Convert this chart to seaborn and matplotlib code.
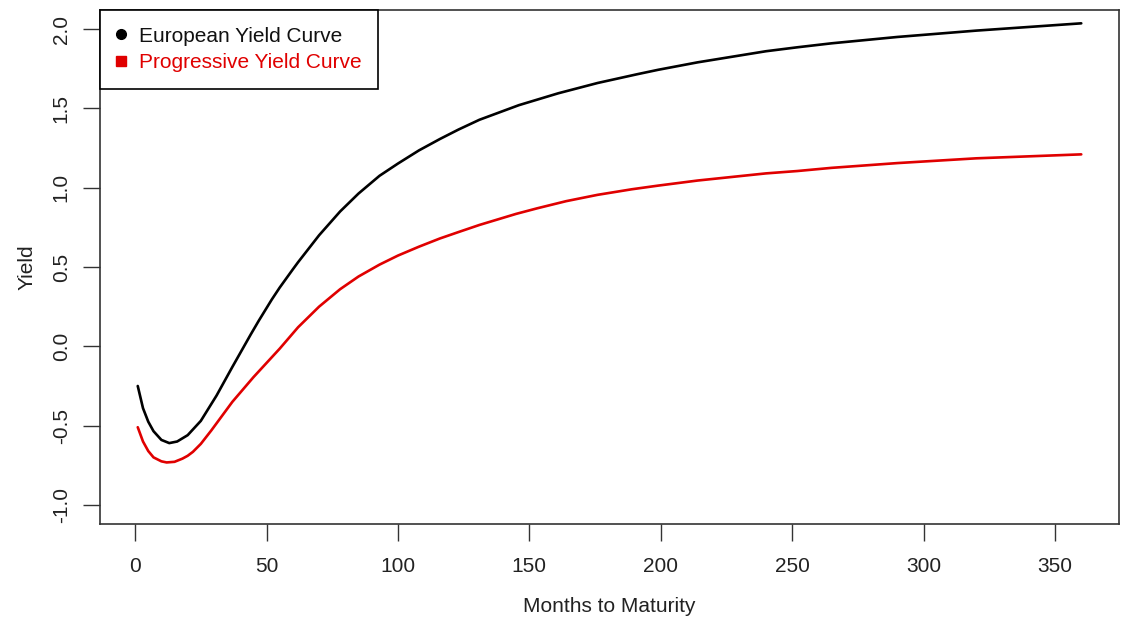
import numpy as np
import pandas as pd
import matplotlib
matplotlib.use("Agg")
import matplotlib.pyplot as plt
from matplotlib.lines import Line2D
import seaborn as sns

# ---- data ----
months_eu = [1, 3, 5, 7, 10, 13, 16, 20, 25, 31, 37, 44, 47, 52, 55, 60, 62, 70, 78, 85,
             93, 100, 108, 116, 123, 131, 146, 161, 176, 191, 199, 214, 240, 252, 265,
             290, 320, 360]
yield_eu = [-0.25, -0.39, -0.475, -0.535, -0.59, -0.61, -0.60, -0.56, -0.47, -0.31, -0.13,
            0.075, 0.16, 0.295, 0.37, 0.485, 0.53, 0.70, 0.85, 0.963, 1.075, 1.152, 1.235,
            1.307, 1.366, 1.428, 1.52, 1.595, 1.66, 1.715, 1.743, 1.79, 1.86, 1.885, 1.91,
            1.95, 1.99, 2.036]

months_pr = [1, 3, 5, 7, 10, 12, 15, 18, 20, 22, 25, 29, 37, 45, 55, 62, 70, 78, 85, 93,
             100, 108, 116, 123, 131, 138, 145, 153, 164, 176, 189, 199, 214, 240, 252,
             265, 290, 320, 360]
yield_pr = [-0.51, -0.60, -0.66, -0.70, -0.725, -0.732, -0.728, -0.708, -0.69, -0.665,
            -0.615, -0.53, -0.35, -0.195, -0.015, 0.12, 0.25, 0.36, 0.44, 0.515, 0.572,
            0.628, 0.68, 0.72, 0.765, 0.80, 0.835, 0.87, 0.915, 0.955, 0.99, 1.013,
            1.045, 1.09, 1.105, 1.125, 1.155, 1.185, 1.21]

series_names = ["European Yield Curve", "Progressive Yield Curve"]
series_colors = ["black", "#e00000"]
x_ticks = [0, 50, 100, 150, 200, 250, 300, 350]
y_ticks = [-1.0, -0.5, 0.0, 0.5, 1.0, 1.5, 2.0]

df = pd.concat([
    pd.DataFrame({"Months": months_eu, "Yield": yield_eu, "Curve": series_names[0]}),
    pd.DataFrame({"Months": months_pr, "Yield": yield_pr, "Curve": series_names[1]}),
], ignore_index=True)

sns.set_style("white")
plt.rcParams["font.family"] = ["Liberation Sans", "DejaVu Sans"]

fig = plt.figure(figsize=(11.21, 6.20), dpi=100)
ax = fig.add_axes([100 / 1121, 1 - 524 / 620, 1019 / 1121, 514 / 620])

sns.lineplot(data=df, x="Months", y="Yield", hue="Curve", hue_order=series_names,
             palette=dict(zip(series_names, series_colors)), linewidth=1.9,
             legend=False, ax=ax, sort=True, estimator=None)
for ln in ax.get_lines():
    ln.set_solid_joinstyle("round")

ax.set_xlim(1 - 359 * 0.04, 360 + 359 * 0.04)
ax.set_ylim(-1.12, 2.12)
ax.set_xticks(x_ticks)
ax.set_xticklabels([str(t) for t in x_ticks])
ax.set_yticks(y_ticks)
ax.set_yticklabels([f"{t:.1f}" for t in y_ticks], rotation=90, va="center")

ax.tick_params(axis="both", direction="out", length=12, width=1.0, color="#333333",
               labelsize=15, labelcolor="#222222", left=True, bottom=True)
ax.tick_params(axis="x", pad=12)
ax.tick_params(axis="y", pad=9)
for s in ax.spines.values():
    s.set_visible(True)
    s.set_color("#333333")
    s.set_linewidth(1.2)

ax.set_xlabel("Months to Maturity", fontsize=15, color="#222222", labelpad=15)
ax.set_ylabel("Yield", fontsize=15, color="#222222", labelpad=11)

handles = [
    Line2D([], [], marker="o", color=series_colors[0], linestyle="none", markersize=7),
    Line2D([], [], marker="s", color=series_colors[1], linestyle="none", markersize=7),
]
leg = ax.legend(handles, series_names, loc="upper left", borderaxespad=0,
                fancybox=False, frameon=True, fontsize=15, handlelength=0.42,
                handletextpad=0.66, borderpad=0.8, labelspacing=0.36)
leg.get_frame().set_edgecolor("black")
leg.get_frame().set_linewidth(1.2)
leg.get_frame().set_alpha(1)
leg.get_texts()[0].set_color("#111111")
leg.get_texts()[1].set_color(series_colors[1])

fig.savefig("out.png", dpi=100, facecolor="white")
